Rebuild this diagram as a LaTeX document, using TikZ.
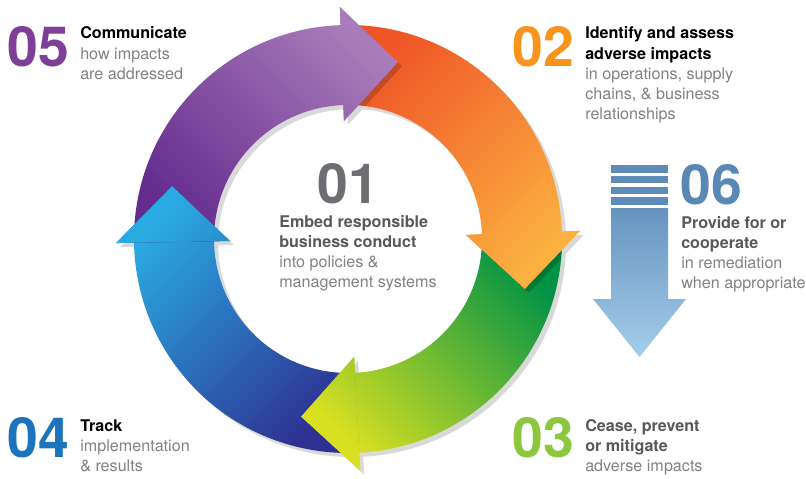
\documentclass[tikz,border=0pt]{standalone}
\usepackage{fontspec}
\setmainfont{TeX Gyre Heros}
\definecolor{purpD}{HTML}{652C8F}
\definecolor{purpL}{HTML}{A97CB9}
\definecolor{orgS}{HTML}{EF5527}
\definecolor{orgE}{HTML}{FBB040}
\definecolor{grnS}{HTML}{009245}
\definecolor{grnE}{HTML}{D9E021}
\definecolor{bluS}{HTML}{2E3192}
\definecolor{bluE}{HTML}{29ABE2}
\definecolor{shadowgray}{HTML}{D9D9DA}
\definecolor{numPurple}{HTML}{7D3F98}
\definecolor{numOrange}{HTML}{F7941E}
\definecolor{numBlue}{HTML}{1C75BC}
\definecolor{numGreen}{HTML}{8DC63F}
\definecolor{numSteel}{HTML}{5B87B4}
\definecolor{numGray}{HTML}{6D6E71}
\definecolor{boldGray}{HTML}{58595B}
\definecolor{textGray}{HTML}{808285}
\definecolor{stripecol}{HTML}{5F8BB8}
\definecolor{sixTop}{HTML}{6794BF}
\definecolor{sixBot}{HTML}{A5CDEA}
\newcommand\RingArrowPath[2]{(#1:214) arc[start angle=#1,end angle=#2,radius=214] -- (#2:232) -- (#2-17.75:183.7) -- (#2:118) -- (#2:134) arc[start angle=#2,end angle=#1,radius=134] -- cycle}
\newcommand\HeadTriPath[1]{(#1:232) -- (#1-17.75:183.7) -- (#1:118) -- cycle}
\begin{document}
\begin{tikzpicture}[x=0.75pt,y=0.75pt,
  purplearrow/.style={top color=purpL, bottom color=purpD, shading angle=-45},
  orangearrow/.style={top color=orgE, bottom color=orgS, shading angle=-135},
  greenarrow/.style={top color=grnE, bottom color=grnS, shading angle=135},
  bluearrow/.style={top color=bluE, bottom color=bluS, shading angle=45},
  headshadow/.style={fill=black, fill opacity=0.18},
  digit/.style={anchor=base west, inner sep=0pt, font=\fontsize{41.5}{41.5}\selectfont\bfseries},
  txt/.style={anchor=base west, inner sep=0pt, font=\fontsize{12.1}{15.1}\selectfont},
  stripebox/.style={fill=stripecol, draw=none}]
\useasboundingbox (0,0) rectangle (806,-478);
\fill[white] (0,0) rectangle (806,-478);
\begin{scope}[shift={(348,-239)}]
  % light drop shadow
  \begin{scope}[shift={(4,-4)}]
    \fill[shadowgray] \RingArrowPath{181}{92};
    \fill[shadowgray] \RingArrowPath{92}{2};
    \fill[shadowgray] \RingArrowPath{2}{-87};
    \fill[shadowgray] \RingArrowPath{-87}{-179};
  \end{scope}
  % bands
  \shade[bluearrow] \RingArrowPath{-87}{-179};
  \shade[greenarrow] \RingArrowPath{2}{-87};
  \shade[orangearrow] \RingArrowPath{92}{2};
  \shade[purplearrow] \RingArrowPath{181}{92};
  % purple head
  \begin{scope}
    \clip \RingArrowPath{92}{2};
    \fill[headshadow, shift={(4,-4)}] \HeadTriPath{92};
  \end{scope}
  \begin{scope}
    \clip \HeadTriPath{92};
    \shade[purplearrow] \RingArrowPath{181}{92};
  \end{scope}
  % orange head
  \begin{scope}
    \clip \RingArrowPath{2}{-87};
    \fill[headshadow, shift={(4,-4)}] \HeadTriPath{2};
  \end{scope}
  \begin{scope}
    \clip \HeadTriPath{2};
    \shade[orangearrow] \RingArrowPath{92}{2};
  \end{scope}
  % green head
  \begin{scope}
    \clip \RingArrowPath{-87}{-179};
    \fill[headshadow, shift={(4,-4)}] \HeadTriPath{-87};
  \end{scope}
  \begin{scope}
    \clip \HeadTriPath{-87};
    \shade[greenarrow] \RingArrowPath{2}{-87};
  \end{scope}
  % blue head
  \begin{scope}
    \clip \RingArrowPath{181}{92};
    \fill[headshadow, shift={(4,-4)}] \HeadTriPath{-179};
  \end{scope}
  \begin{scope}
    \clip \HeadTriPath{-179};
    \shade[bluearrow] \RingArrowPath{-87}{-179};
  \end{scope}
\end{scope}
% step 06 arrow
\fill[stripebox] (611,-165) rectangle (668,-172.5);
\fill[stripebox] (611,-175.8) rectangle (668,-183.3);
\fill[stripebox] (611,-186.6) rectangle (668,-194.1);
\fill[stripebox] (611,-197.4) rectangle (668,-204.9);
\shade[top color=sixTop, bottom color=sixBot] (611,-208) -- (668,-208) -- (668,-299) -- (686,-299) -- (639.5,-357) -- (593,-299) -- (611,-299) -- cycle;
% center
\node[anchor=base, inner sep=0pt, font=\fontsize{41.5}{41.5}\selectfont\bfseries, text=numGray] (n01) at (348.5,-203) {01};
\node[txt] (t01) at (279,-227) {\begin{tabular}[t]{@{}l@{}}\color{boldGray}\bfseries Embed responsible\\\color{boldGray}\bfseries business conduct\\\color{textGray}into policies \&\\\color{textGray}management systems\end{tabular}};
% 05
\node[digit, text=numPurple] (n05) at (7,-66) {05};
\node[txt] (t05) at (80,-39) {\begin{tabular}[t]{@{}l@{}}\bfseries Communicate\\\color{textGray}how impacts\\\color{textGray}are addressed\end{tabular}};
% 02
\node[digit, text=numOrange] (n02) at (512,-66) {02};
\node[txt] (t02) at (585,-39) {\begin{tabular}[t]{@{}l@{}}\bfseries Identify and assess\\\bfseries adverse impacts\\\color{textGray}in operations, supply\\\color{textGray}chains, \& business\\\color{textGray}relationships\end{tabular}};
% 06
\node[digit, text=numSteel] (n06) at (680,-204) {06};
\node[txt] (t06) at (681,-228) {\begin{tabular}[t]{@{}l@{}}\color{boldGray}\bfseries Provide for or\\\color{boldGray}\bfseries cooperate\\\color{textGray}in remediation\\\color{textGray}when appropriate\end{tabular}};
% 04
\node[digit, text=numBlue] (n04) at (7,-457) {04};
\node[txt] (t04) at (80,-431) {\begin{tabular}[t]{@{}l@{}}\bfseries Track\\\color{textGray}implementation\\\color{textGray}\& results\end{tabular}};
% 03
\node[digit, text=numGreen] (n03) at (512,-457) {03};
\node[txt] (t03) at (585,-431) {\begin{tabular}[t]{@{}l@{}}\color{boldGray}\bfseries Cease, prevent\\\color{boldGray}\bfseries or mitigate\\\color{textGray}adverse impacts\end{tabular}};
\end{tikzpicture}
\end{document}
